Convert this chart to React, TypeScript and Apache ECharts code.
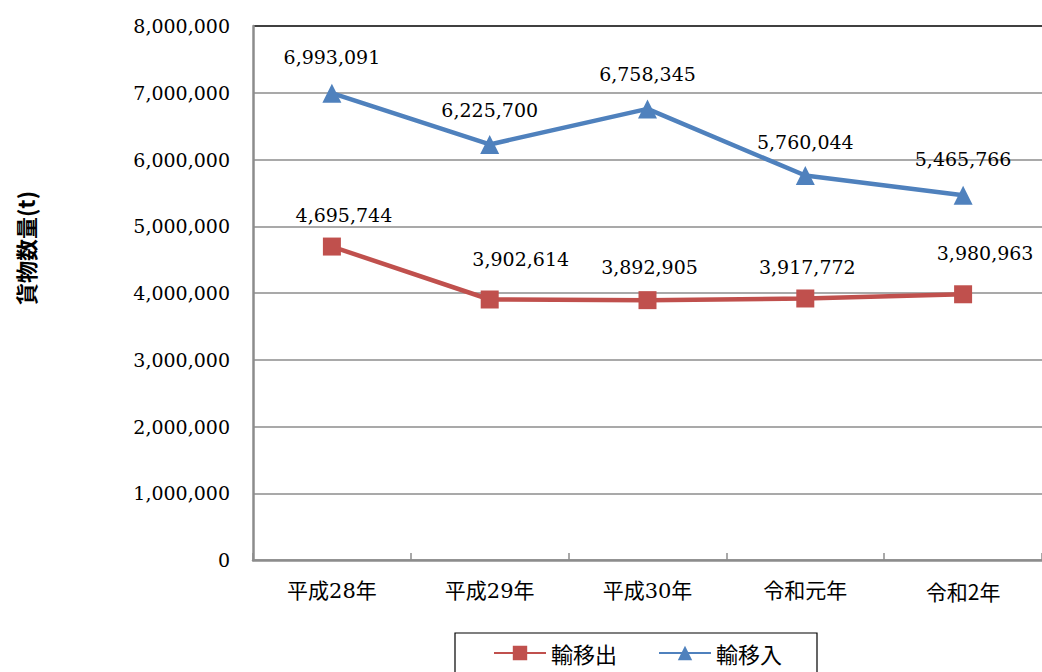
import React, { useEffect, useRef } from "react";
import * as echarts from "echarts";

const categories = ["平成28年", "平成29年", "平成30年", "令和元年", "令和2年"];
const exportValues = [4695744, 3902614, 3892905, 3917772, 3980963];
const importValues = [6993091, 6225700, 6758345, 5760044, 5465766];
const seriesNames = ["輸移出", "輸移入"];
const yAxisTitle = "貨物数量(t)";
// label offsets [dx, dy] relative to the point (layout only)
const exportLabelOffsets = [[12, -32], [31, -41], [2, -33], [2, -31], [22, -41]];
const importLabelOffsets = [[0, -36], [0, -34], [0, -35], [0, -34], [0, -36]];

const fmt = (v: number) => String(Math.round(v)).replace(/\B(?=(\d{3})+(?!\d))/g, ",");
const SERIF = "DejaVu Serif";
const MIXED = "DejaVu Serif, Noto Sans CJK JP";
const CJK = "Noto Sans CJK JP";

export default function App() {
  const ref = useRef<HTMLDivElement>(null);
  useEffect(() => {
    if (!ref.current) return;
    const chart = echarts.init(ref.current, undefined, { renderer: "svg" });
    const mk = (vals: number[], offs: number[][]) =>
      vals.map((v, i) => ({
        value: v,
        label: { offset: offs[i] },
      }));
    const labelBase = {
      show: true,
      position: "inside",
      color: "#000",
      fontFamily: SERIF,
      fontSize: 19,
      formatter: (p: any) => fmt(p.value),
    };
    chart.setOption({
      animation: false,
      backgroundColor: "#fff",
      grid: { left: 253, top: 26, width: 793, bottom: 112, containLabel: false },
      legend: {
        data: seriesNames,
        left: 455,
        top: 633,
        orient: "horizontal",
        itemWidth: 52,
        itemHeight: 18,
        itemGap: 41,
        padding: [9, 35, 30, 38],
        borderColor: "#000",
        borderWidth: 1.2,
        textStyle: { fontFamily: CJK, fontSize: 22, color: "#000" },
      },
      graphic: [
        {
          type: "text",
          x: 25,
          y: 248,
          rotation: Math.PI / 2,
          style: {
            text: yAxisTitle,
            fontFamily: CJK,
            fontWeight: "bold",
            fontSize: 22,
            fill: "#000",
            align: "center",
            verticalAlign: "middle",
          },
        },
      ],
      xAxis: {
        type: "category",
        data: categories,
        boundaryGap: true,
        axisLine: { lineStyle: { color: "#8c8c8c", width: 2.5 } },
        axisTick: { show: true, inside: true, length: 7, lineStyle: { color: "#8c8c8c", width: 1.5 } },
        axisLabel: {
          fontFamily: MIXED,
          fontSize: 21,
          color: "#000",
          margin: 20,
          formatter: (v: string) => (/^令和\d/.test(v) ? "{s|" + v + "}" : v),
          rich: { s: { fontFamily: CJK, fontSize: 21, color: "#000" } },
        },
      },
      yAxis: {
        type: "value",
        min: 0,
        max: 8000000,
        interval: 1000000,
        axisLine: { show: true, lineStyle: { color: "#8c8c8c", width: 2.5 } },
        axisTick: { show: false },
        axisLabel: {
          fontFamily: SERIF,
          fontSize: 19,
          color: "#000",
          margin: 23,
          formatter: (v: number) => fmt(v),
        },
        splitLine: {
          show: true,
          lineStyle: {
            color: ["#8c8c8c", "#8c8c8c", "#8c8c8c", "#8c8c8c", "#8c8c8c", "#8c8c8c", "#8c8c8c", "#8c8c8c", "#000"],
            width: 1.5,
          },
        },
      },
      series: [
        {
          name: seriesNames[0],
          type: "line",
          data: mk(exportValues, exportLabelOffsets),
          symbol: "rect",
          symbolSize: 18,
          itemStyle: { color: "#C0504D" },
          lineStyle: { color: "#C0504D", width: 4.5 },
          label: labelBase,
          z: 3,
        },
        {
          name: seriesNames[1],
          type: "line",
          data: mk(importValues, importLabelOffsets),
          symbol: "triangle",
          symbolSize: 19,
          itemStyle: { color: "#4F81BD" },
          lineStyle: { color: "#4F81BD", width: 4.5 },
          label: labelBase,
          z: 3,
        },
      ],
    });
    return () => chart.dispose();
  }, []);
  return (
    <div
      ref={ref}
      style={{ position: "fixed", left: 0, top: 0, width: 1042, height: 672, background: "#fff" }}
    />
  );
}
